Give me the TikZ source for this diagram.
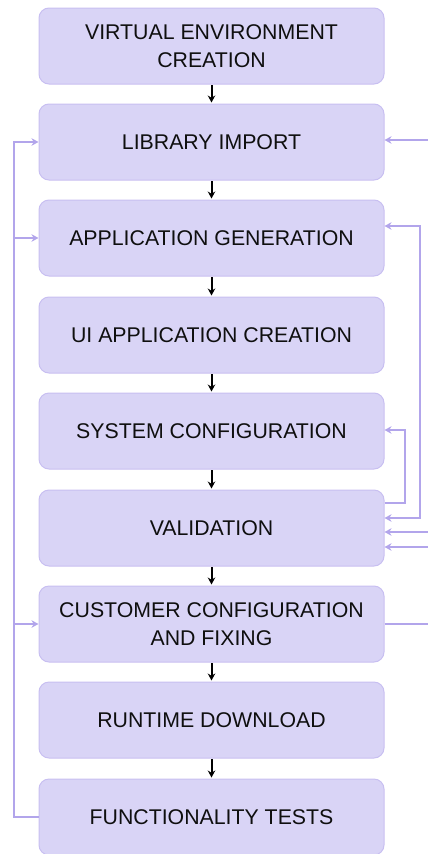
\documentclass[tikz,border=0pt]{standalone}
\usepackage{fontspec}
\setmainfont{Liberation Sans}
\usetikzlibrary{arrows.meta}
\definecolor{boxfill}{RGB}{217,212,246}
\definecolor{boxline}{RGB}{200,191,241}
\definecolor{lav}{RGB}{178,165,235}
\definecolor{ink}{RGB}{15,15,15}
\tikzset{
  stepbox/.style={draw=boxline, line width=1pt, fill=boxfill, rounded corners=10pt,
    minimum width=345pt, minimum height=76pt, inner sep=0pt, align=center,
    text=ink, font=\fontsize{21.3}{28}\selectfont},
  flow/.style={draw=black, line width=2pt, -{Stealth[length=7pt,width=7.5pt]},
    shorten <=0.5pt, shorten >=1pt},
  loop/.style={draw=lav, line width=2pt},
  looparrow/.style={loop, -{Stealth[length=7pt,width=7.5pt]}},
}
\begin{document}
\begin{tikzpicture}[x=1pt,y=-1pt]
\useasboundingbox (0,0) rectangle (428,854);

% process steps
\node[stepbox] (venv) at (211.5,46)  {VIRTUAL ENVIRONMENT\\CREATION};
\node[stepbox] (lib)  at (211.5,142) {LIBRARY IMPORT};
\node[stepbox] (app)  at (211.5,238) {APPLICATION GENERATION};
\node[stepbox] (ui)   at (211.5,335) {UI APPLICATION CREATION};
\node[stepbox] (sys)  at (211.5,431) {SYSTEM CONFIGURATION};
\node[stepbox] (val)  at (211.5,528) {VALIDATION};
\node[stepbox] (cust) at (211.5,624) {CUSTOMER CONFIGURATION\\AND FIXING};
\node[stepbox] (run)  at (211.5,720) {RUNTIME DOWNLOAD};
\node[stepbox] (fun)  at (211.5,817) {FUNCTIONALITY TESTS};

% main sequence
\draw[flow] (venv) -- (lib);
\draw[flow] (lib)  -- (app);
\draw[flow] (app)  -- (ui);
\draw[flow] (ui)   -- (sys);
\draw[flow] (sys)  -- (val);
\draw[flow] (val)  -- (cust);
\draw[flow] (cust) -- (run);
\draw[flow] (run)  -- (fun);

% left feedback rail
\coordinate (lbot) at (14,817);
\draw[looparrow] (fun.west) -- (lbot) |- (lib.west);
\draw[looparrow] (lbot |- app.west) -- (app.west);
\draw[looparrow] (lbot |- cust.west) -- (cust.west);

% right side links
\coordinate (rlib) at (428,140);
\draw[looparrow] (rlib) -- (rlib -| lib.east);

\coordinate (ra) at (420,226);
\coordinate (rv) at (420,518);
\draw[loop, {Stealth[length=7pt,width=7.5pt]}-{Stealth[length=7pt,width=7.5pt]}]
  (ra -| app.east) -- (ra) -- (rv) -- (rv -| val.east);

\coordinate (rs1) at (405,503);
\coordinate (rs2) at (405,430);
\draw[looparrow] (rs1 -| val.east) -- (rs1) -- (rs2) -- (rs2 -| sys.east);

\coordinate (rin1) at (428,532);
\coordinate (rin2) at (428,547);
\draw[looparrow] (rin1) -- (rin1 -| val.east);
\draw[looparrow] (rin2) -- (rin2 -| val.east);

\coordinate (rcust) at (428,624);
\draw[loop] (cust.east) -- (rcust);
\end{tikzpicture}
\end{document}
